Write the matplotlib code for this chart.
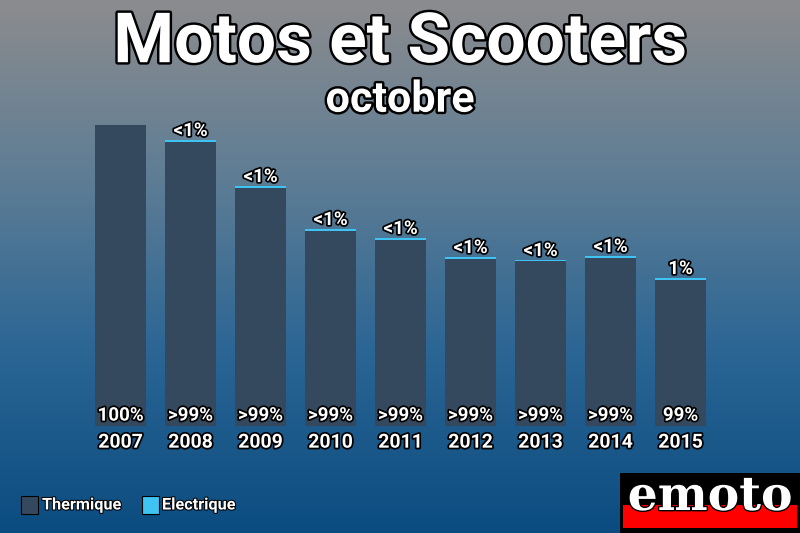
import numpy as np
from matplotlib import pyplot as plt
import matplotlib.patheffects as pe
from matplotlib.patches import Rectangle
from matplotlib.colors import LinearSegmentedColormap

years = ["2007", "2008", "2009", "2010", "2011", "2012", "2013", "2014", "2015"]
totals = [301, 286, 240, 197, 188, 169, 166, 170, 148]
electric_share = [0.0, 0.007, 0.007, 0.008, 0.008, 0.009, 0.009, 0.009, 0.013]
top_labels = ["", "<1%", "<1%", "<1%", "<1%", "<1%", "<1%", "<1%", "1%"]
bottom_labels = ["100%", ">99%", ">99%", ">99%", ">99%", ">99%", ">99%", ">99%", "99%"]

c_therm = "#34495e"
c_elec = "#3ec3f2"
plt.rcParams['font.family'] = ['Roboto', 'DejaVu Sans']

fig = plt.figure(figsize=(8, 5.33), dpi=100)

# gradient background
bg = fig.add_axes([0, 0, 1, 1])
cmap = LinearSegmentedColormap.from_list("bg", ["#8c8c8e", "#5e7d95", "#2a6594", "#0b4c80"])
grad = np.linspace(0, 1, 256).reshape(-1, 1)
bg.imshow(grad, aspect="auto", cmap=cmap, extent=[0, 1, 0, 1])
bg.set_axis_off()

outline = [pe.withStroke(linewidth=3.5, foreground="black")]
thin = [pe.withStroke(linewidth=2.5, foreground="black")]

fig.text(0.5, 0.918, "Motos et Scooters", ha="center", va="center", color="white",
         fontsize=50, fontweight="bold", path_effects=outline)
fig.text(0.5, 0.812, "octobre", ha="center", va="center", color="white",
         fontsize=31, fontweight="bold", path_effects=outline)

ax = fig.add_axes([85.5 / 800, 107 / 533, 630 / 800, 301 / 533])
ax.patch.set_alpha(0)
x = np.arange(len(years))
elec = np.array(totals) * np.array(electric_share)
therm = np.array(totals) - elec
ax.bar(x, therm, width=0.73, color=c_therm)
ax.bar(x, elec, width=0.73, bottom=therm, color=c_elec)
ax.set_xlim(-0.5, len(years) - 0.5)
ax.set_ylim(0, 301)
ax.set_axis_off()

for i in range(len(years)):
    if top_labels[i]:
        ax.annotate(top_labels[i], (x[i], totals[i]), xytext=(0, 6.5), textcoords="offset points",
                    ha="center", va="center", color="white", fontsize=13.5, fontweight="bold",
                    path_effects=thin, annotation_clip=False)
    ax.annotate(bottom_labels[i], (x[i], 0), xytext=(0, 7.5), textcoords="offset points",
                ha="center", va="center", color="white", fontsize=13.5, fontweight="bold",
                path_effects=thin, annotation_clip=False)
    ax.annotate(years[i], (x[i], 0), xytext=(0, -12), textcoords="offset points",
                ha="center", va="center", color="white", fontsize=14, fontweight="bold",
                path_effects=thin, annotation_clip=False)

# legend
fig.patches.append(Rectangle((21 / 800, 1 - 514 / 533), 17 / 800, 18 / 533, transform=fig.transFigure,
                             facecolor=c_therm, edgecolor="black", lw=0.8))
fig.text(42 / 800, 1 - 505 / 533, "Thermique", ha="left", va="center", color="white",
         fontsize=11.7, fontweight="bold", path_effects=[pe.withStroke(linewidth=1.5, foreground="black")])
fig.patches.append(Rectangle((142 / 800, 1 - 514 / 533), 17 / 800, 18 / 533, transform=fig.transFigure,
                             facecolor=c_elec, edgecolor="black", lw=0.8))
fig.text(162 / 800, 1 - 505 / 533, "Electrique", ha="left", va="center", color="white",
         fontsize=11.7, fontweight="bold", path_effects=[pe.withStroke(linewidth=1.5, foreground="black")])

# logo
fig.patches.append(Rectangle((620 / 800, 0), 180 / 800, 60 / 533, transform=fig.transFigure,
                             facecolor="black", edgecolor="none"))
fig.patches.append(Rectangle((623 / 800, 5 / 533), 174 / 800, 23 / 533, transform=fig.transFigure,
                             facecolor="#ff0000", edgecolor="none"))
fig.text(710 / 800, 1 - 497 / 533, "emoto", ha="center", va="center", color="white",
         fontsize=34, fontweight="bold", family=["DejaVu Serif"],
         path_effects=[pe.withStroke(linewidth=2, foreground="black")])

fig.savefig("out.png", dpi=100)
